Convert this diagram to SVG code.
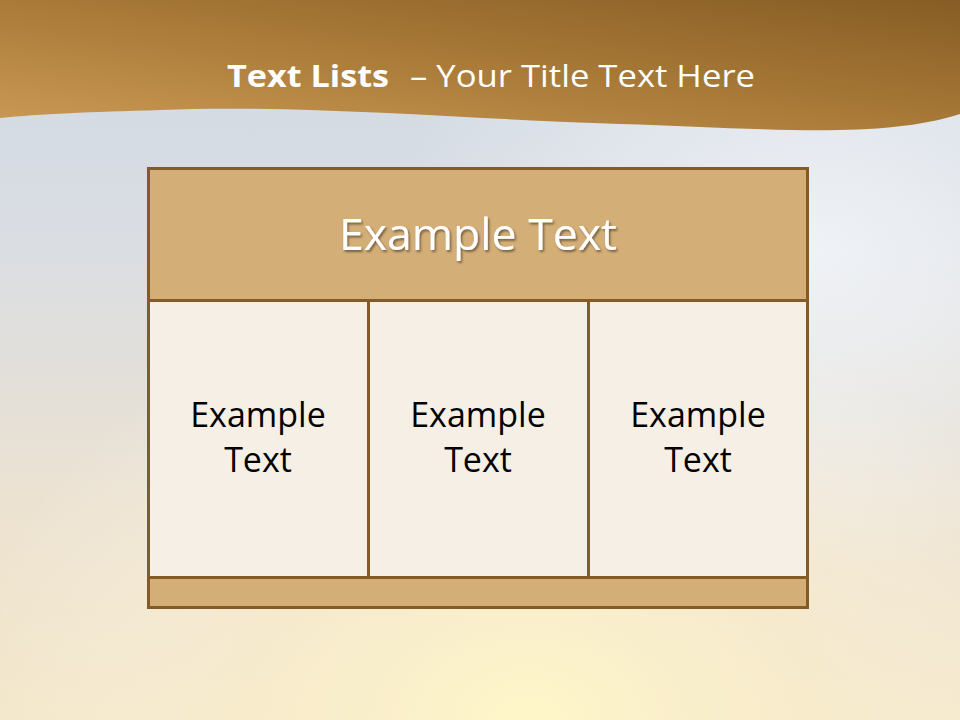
<svg xmlns="http://www.w3.org/2000/svg" width="960" height="720" viewBox="0 0 960 720">
<defs>
<linearGradient id="sky" x1="0" y1="0" x2="0" y2="1">
<stop offset="0" stop-color="#D0DAE5"/>
<stop offset="0.35" stop-color="#DADDE2"/>
<stop offset="0.7" stop-color="#ECE2D1"/>
<stop offset="1" stop-color="#F3E6C6"/>
</linearGradient>
<radialGradient id="sun" cx="0.55" cy="1.0" r="0.6">
<stop offset="0" stop-color="#FFF7C8" stop-opacity="0.95"/>
<stop offset="0.5" stop-color="#FBEFD0" stop-opacity="0.5"/>
<stop offset="1" stop-color="#FFFFFF" stop-opacity="0"/>
</radialGradient>
<radialGradient id="glow" cx="0.85" cy="0.35" r="0.45">
<stop offset="0" stop-color="#F4F7FB" stop-opacity="0.8"/>
<stop offset="1" stop-color="#F4F7FB" stop-opacity="0"/>
</radialGradient>
<linearGradient id="band" x1="0" y1="1" x2="1" y2="0">
<stop offset="0" stop-color="#CB9A55"/>
<stop offset="0.5" stop-color="#A97A38"/>
<stop offset="1" stop-color="#875D25"/>
</linearGradient>
<filter id="sh" x="-10%" y="-10%" width="120%" height="130%">
<feDropShadow dx="1.5" dy="2" stdDeviation="1.2" flood-color="#000" flood-opacity="0.45"/>
</filter>
</defs>
<style>
.frame{stroke:#845B26;stroke-width:3}
.head{fill:#D4AE77}
.cell{fill:#F5EFE6}
.lbl{font-family:"Open Sans","Liberation Sans",sans-serif;font-size:34px;fill:#000;text-anchor:middle}
</style>
<rect width="960" height="720" fill="url(#sky)"/>
<rect width="960" height="720" fill="url(#glow)"/>
<rect width="960" height="720" fill="url(#sun)"/>
<path d="M0 0 H960 V114 C880 140 760 128 620 124 C480 120 300 104 160 110 C90 112 40 114 0 118 Z" fill="url(#band)"/>
<g id="title" font-family="'Open Sans','Liberation Sans',sans-serif" fill="#FFFFFF">
<text x="227" y="87" font-size="31" font-weight="bold" textLength="162" lengthAdjust="spacingAndGlyphs">Text Lists</text>
<text x="410" y="87" font-size="31" textLength="345" lengthAdjust="spacingAndGlyphs">– Your Title Text Here</text>
</g>
<g id="header">
<rect class="head frame" x="148.5" y="168.5" width="659" height="132"/>
<text x="478" y="250" font-family="'Open Sans','Liberation Sans',sans-serif" font-size="43" fill="#FFFFFF" text-anchor="middle" filter="url(#sh)" textLength="278" lengthAdjust="spacingAndGlyphs">Example Text</text>
</g>
<g id="col1">
<rect class="cell frame" x="148.5" y="300.5" width="220" height="277"/>
<text class="lbl" x="258" y="427">Example</text>
<text class="lbl" x="258" y="472">Text</text>
</g>
<g id="col2">
<rect class="cell frame" x="368.5" y="300.5" width="220" height="277"/>
<text class="lbl" x="478" y="427">Example</text>
<text class="lbl" x="478" y="472">Text</text>
</g>
<g id="col3">
<rect class="cell frame" x="588.5" y="300.5" width="219" height="277"/>
<text class="lbl" x="698" y="427">Example</text>
<text class="lbl" x="698" y="472">Text</text>
</g>
<g id="footer">
<rect class="head frame" x="148.5" y="577.5" width="659" height="30"/>
</g>
</svg>
